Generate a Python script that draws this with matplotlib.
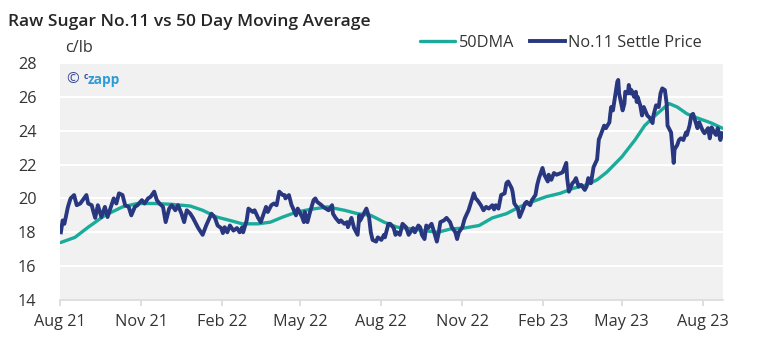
import matplotlib
matplotlib.use("Agg")
import matplotlib.pyplot as plt
import matplotlib.dates as mdates
import pandas as pd

plt.rcParams['font.family'] = ['Open Sans', 'DejaVu Sans']

# No.11 settle price (c/lb), one line per month
price_dates = [
    '2021-08-02', '2021-08-04', '2021-08-06', '2021-08-10', '2021-08-13', '2021-08-17', '2021-08-20', '2021-08-24', '2021-08-31',
    '2021-09-02', '2021-09-06', '2021-09-08', '2021-09-10', '2021-09-13', '2021-09-17', '2021-09-21', '2021-09-24', '2021-09-29',
    '2021-10-01', '2021-10-04', '2021-10-07', '2021-10-11', '2021-10-14', '2021-10-18', '2021-10-21', '2021-10-25', '2021-10-28',
    '2021-11-02', '2021-11-05', '2021-11-09', '2021-11-12', '2021-11-16', '2021-11-19', '2021-11-22', '2021-11-26', '2021-11-29',
    '2021-12-03', '2021-12-06', '2021-12-10', '2021-12-13', '2021-12-17', '2021-12-20', '2021-12-23', '2021-12-27', '2021-12-30',
    '2022-01-05', '2022-01-10', '2022-01-13', '2022-01-14', '2022-01-20', '2022-01-24', '2022-01-27', '2022-01-31',
    '2022-02-02', '2022-02-04', '2022-02-07', '2022-02-10', '2022-02-14', '2022-02-18', '2022-02-21', '2022-02-24', '2022-02-25',
    '2022-03-01', '2022-03-03', '2022-03-08', '2022-03-10', '2022-03-14', '2022-03-17', '2022-03-21', '2022-03-23', '2022-03-25', '2022-03-29',
    '2022-04-01', '2022-04-04', '2022-04-07', '2022-04-11', '2022-04-13', '2022-04-14', '2022-04-18', '2022-04-21', '2022-04-22', '2022-04-26', '2022-04-28',
    '2022-05-03', '2022-05-05', '2022-05-06', '2022-05-09', '2022-05-12', '2022-05-16', '2022-05-18', '2022-05-20', '2022-05-25', '2022-05-27',
    '2022-06-02', '2022-06-06', '2022-06-07', '2022-06-10', '2022-06-14', '2022-06-16', '2022-06-20', '2022-06-23', '2022-06-24', '2022-06-28',
    '2022-07-01', '2022-07-05', '2022-07-07', '2022-07-08', '2022-07-13', '2022-07-15', '2022-07-18', '2022-07-20', '2022-07-22', '2022-07-26', '2022-07-28',
    '2022-08-01', '2022-08-04', '2022-08-05', '2022-08-09', '2022-08-11', '2022-08-15', '2022-08-17', '2022-08-19', '2022-08-22', '2022-08-25', '2022-08-29',
    '2022-09-01', '2022-09-06', '2022-09-08', '2022-09-12', '2022-09-14', '2022-09-16', '2022-09-19', '2022-09-21', '2022-09-23', '2022-09-27', '2022-09-30',
    '2022-10-03', '2022-10-05', '2022-10-07', '2022-10-11', '2022-10-14', '2022-10-18', '2022-10-20', '2022-10-24', '2022-10-26', '2022-10-28',
    '2022-11-01', '2022-11-03', '2022-11-04', '2022-11-08', '2022-11-11', '2022-11-14', '2022-11-16', '2022-11-18', '2022-11-22', '2022-11-25', '2022-11-28',
    '2022-12-01', '2022-12-05', '2022-12-07', '2022-12-09', '2022-12-12', '2022-12-15', '2022-12-19', '2022-12-21', '2022-12-23', '2022-12-27', '2022-12-28', '2022-12-30',
    '2023-01-03', '2023-01-05', '2023-01-09', '2023-01-11', '2023-01-13', '2023-01-17', '2023-01-19', '2023-01-23', '2023-01-25', '2023-01-27', '2023-01-31',
    '2023-02-02', '2023-02-06', '2023-02-07', '2023-02-10', '2023-02-13', '2023-02-16', '2023-02-21', '2023-02-23', '2023-02-27', '2023-02-28',
    '2023-03-02', '2023-03-06', '2023-03-08', '2023-03-10', '2023-03-13', '2023-03-16', '2023-03-20', '2023-03-22', '2023-03-24', '2023-03-27', '2023-03-30',
    '2023-04-03', '2023-04-05', '2023-04-06', '2023-04-11', '2023-04-13', '2023-04-17', '2023-04-18', '2023-04-19', '2023-04-21', '2023-04-24', '2023-04-26', '2023-04-27', '2023-04-28',
    '2023-05-02', '2023-05-04', '2023-05-05', '2023-05-08', '2023-05-09', '2023-05-11', '2023-05-12', '2023-05-15', '2023-05-17', '2023-05-18', '2023-05-19', '2023-05-22', '2023-05-24', '2023-05-26', '2023-05-30',
    '2023-06-02', '2023-06-05', '2023-06-06', '2023-06-09', '2023-06-12', '2023-06-14', '2023-06-16', '2023-06-19', '2023-06-21', '2023-06-22', '2023-06-26', '2023-06-27', '2023-06-29', '2023-06-30',
    '2023-07-03', '2023-07-05', '2023-07-07', '2023-07-10', '2023-07-13', '2023-07-14', '2023-07-17', '2023-07-19', '2023-07-21', '2023-07-24', '2023-07-26', '2023-07-28',
    '2023-08-01', '2023-08-03', '2023-08-07', '2023-08-09', '2023-08-11', '2023-08-14', '2023-08-16', '2023-08-18', '2023-08-21', '2023-08-23',
]
price_values = [
    18.0, 18.7, 18.5, 19.5, 20.0, 20.2, 19.6, 19.7, 20.2,
    19.7, 19.6, 19.2, 18.85, 19.6, 18.9, 19.5, 18.9, 19.7,
    20.0, 19.7, 20.3, 20.2, 19.6, 19.5, 19.0, 19.5, 19.6,
    19.9, 19.7, 20.0, 20.1, 20.4, 19.9, 19.7, 19.5, 18.6,
    19.4, 19.6, 19.3, 19.6, 19.1, 18.6, 19.3, 19.1, 18.85,
    18.25, 17.85, 18.25, 18.4, 19.1, 18.85, 18.4, 18.25,
    17.95, 18.3, 18.0, 18.4, 18.1, 18.25, 18.0, 18.3, 18.0,
    18.7, 19.4, 19.2, 19.3, 18.85, 18.6, 19.2, 19.5, 19.2, 19.6,
    19.7, 19.6, 20.4, 20.2, 20.2, 20.0, 20.2, 19.6, 19.5, 19.0, 19.4,
    18.9, 18.6, 19.2, 18.6, 19.2, 19.9, 20.0, 19.8, 19.6, 19.5,
    19.3, 19.6, 19.1, 18.85, 18.6, 18.7, 18.5, 18.6, 18.3, 18.85,
    18.25, 17.85, 19.0, 18.7, 19.2, 19.4, 18.9, 18.0, 17.55, 17.45, 17.7,
    17.55, 17.85, 17.7, 18.5, 18.5, 18.25, 17.85, 18.0, 17.85, 18.5, 18.3,
    17.85, 18.25, 18.0, 18.4, 18.3, 17.85, 17.6, 18.4, 18.25, 18.5, 18.0,
    17.45, 17.95, 18.6, 18.7, 18.85, 18.6, 18.3, 18.0, 17.6, 18.0,
    18.3, 18.7, 18.85, 19.3, 19.8, 20.3, 20.0, 19.9, 19.6, 19.3, 19.5,
    19.4, 19.6, 19.35, 19.6, 19.4, 20.2, 20.3, 20.9, 21.0, 20.6, 20.4, 19.7,
    19.4, 18.9, 19.4, 19.7, 19.8, 19.6, 19.9, 20.2, 20.8, 21.2, 21.8,
    21.4, 21.0, 21.4, 21.1, 21.5, 21.4, 21.5, 21.55, 22.1, 21.2,
    20.4, 20.9, 21.0, 21.2, 20.7, 20.8, 20.5, 20.7, 21.2, 20.9, 21.85,
    22.3, 23.5, 23.6, 24.3, 24.15, 24.5, 25.0, 25.4, 25.2, 26.2, 26.9, 27.0, 26.2,
    25.2, 25.6, 26.3, 26.2, 26.7, 26.2, 26.4, 26.0, 26.3, 25.7, 26.0, 25.5, 24.9, 25.4, 24.9,
    24.75, 24.45, 24.9, 25.5, 25.4, 26.2, 26.5, 26.4, 25.6, 24.3, 23.9, 23.3, 22.1, 22.9,
    23.15, 23.45, 23.55, 23.45, 23.9, 23.75, 24.3, 24.9, 25.0, 24.5, 24.15, 24.5,
    24.0, 23.85, 24.15, 23.55, 24.2, 23.9, 23.75, 24.15, 23.45, 23.85,
]

# 50 day moving average (c/lb)
ma_dates = [
    '2021-08-02', '2021-08-18', '2021-09-02', '2021-09-21', '2021-10-11', '2021-10-28', '2021-11-17', '2021-12-06', '2021-12-27',
    '2022-01-10', '2022-01-26', '2022-02-10', '2022-02-24', '2022-03-14', '2022-03-28', '2022-04-11', '2022-04-27', '2022-05-12',
    '2022-06-01', '2022-06-20', '2022-07-05', '2022-07-20', '2022-08-04', '2022-08-19', '2022-09-05', '2022-09-19', '2022-10-04',
    '2022-10-19', '2022-11-03', '2022-11-20', '2022-12-05', '2022-12-21', '2023-01-05', '2023-01-19', '2023-02-04', '2023-02-20',
    '2023-03-07', '2023-03-22', '2023-04-03', '2023-04-14', '2023-05-01', '2023-05-16', '2023-05-27', '2023-06-08', '2023-06-19',
    '2023-06-24', '2023-07-03', '2023-07-14', '2023-07-26', '2023-08-11', '2023-08-23',
]
ma_values = [
    17.4, 17.7, 18.3, 19.0, 19.5, 19.7, 19.7, 19.65, 19.55,
    19.3, 18.9, 18.7, 18.5, 18.5, 18.6, 18.9, 19.2, 19.35,
    19.5, 19.3, 19.1, 19.0, 18.6, 18.3, 18.2, 18.1, 18.0,
    18.2, 18.25, 18.4, 18.85, 19.1, 19.5, 19.8, 20.1, 20.3,
    20.6, 20.8, 21.1, 21.55, 22.45, 23.45, 24.3, 24.9, 25.4,
    25.6, 25.4, 25.0, 24.75, 24.45, 24.15,
]

y_ticks = [14, 16, 18, 20, 22, 24, 26, 28]

navy = '#28377f'
teal = '#1aab9b'
text_col = '#333333'

fig = plt.figure(figsize=(7.62, 3.59), dpi=100)
ax = fig.add_axes([60 / 762, 59 / 359, 663 / 762, 237 / 359])
ax.set_facecolor('#f1f1f1')

ax.plot(pd.to_datetime(ma_dates), ma_values, color=teal, lw=2.4, label='50DMA',
        solid_capstyle='round', zorder=3)
ax.plot(pd.to_datetime(price_dates), price_values, color=navy, lw=2.8, label='No.11 Settle Price',
        solid_joinstyle='round', zorder=4)

ax.set_ylim(14, 28)
ax.set_yticks(y_ticks)
ax.set_xlim(pd.Timestamp('2021-08-01'), pd.Timestamp('2023-08-24'))
ax.xaxis.set_major_locator(mdates.MonthLocator(bymonth=[2, 5, 8, 11]))
ax.xaxis.set_major_formatter(mdates.DateFormatter('%b %y'))

ax.grid(axis='y', color='white', lw=1.5)
ax.set_axisbelow(True)
for s in ['top', 'right', 'left']:
    ax.spines[s].set_visible(False)
ax.spines['bottom'].set_color('#d9d9d9')
ax.spines['bottom'].set_linewidth(1.2)
ax.tick_params(axis='y', length=0, pad=17, labelsize=11.7, labelcolor=text_col)
ax.tick_params(axis='x', length=4, width=1.2, color='#d9d9d9', pad=6, labelsize=11.7, labelcolor=text_col)

fig.text(8 / 762, 1 - 22 / 359, 'Raw Sugar No.11 vs 50 Day Moving Average', fontsize=12.5,
         fontweight='semibold', color='#262626', va='center', ha='left')
fig.text(65 / 762, 1 - 48 / 359, 'c/lb', fontsize=11.7, color=text_col, va='center', ha='left')

# watermark
ax.text(0.010, 0.93, '\u00a9', transform=ax.transAxes, fontsize=11, color='#3c4a9c', va='center')
ax.text(0.035, 0.945, 'c', transform=ax.transAxes, fontsize=6, color='#3c4a9c', va='center', fontweight='bold')
ax.text(0.041, 0.93, 'zapp', transform=ax.transAxes, fontsize=9.8, color='#2f9ad8', va='center', fontweight='bold')

fig.legend(loc='center right', bbox_to_anchor=(702 / 762, 1 - 43 / 359), ncol=2, frameon=False,
           fontsize=11.7, handlelength=2.15, handletextpad=0.2, columnspacing=1.0,
           borderpad=0, borderaxespad=0, labelcolor=text_col)

fig.savefig('out.png', dpi=100, facecolor='white')
